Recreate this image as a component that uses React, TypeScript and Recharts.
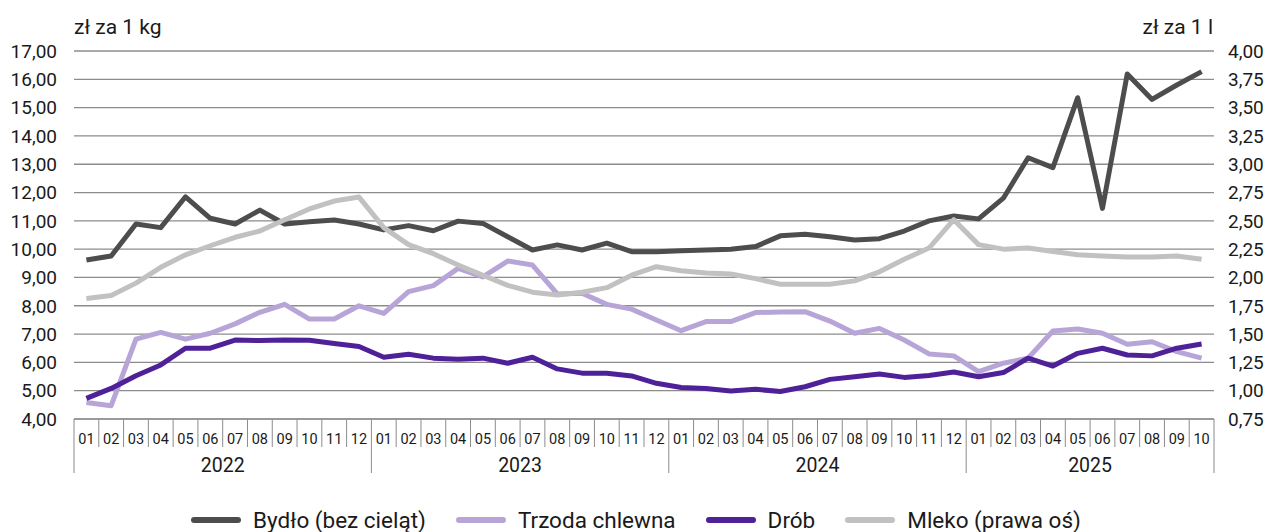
import { LineChart, Line, XAxis, YAxis, CartesianGrid, Legend } from 'recharts';

const months = [
  '01', '02', '03', '04', '05', '06', '07', '08', '09', '10', '11', '12',
  '01', '02', '03', '04', '05', '06', '07', '08', '09', '10', '11', '12',
  '01', '02', '03', '04', '05', '06', '07', '08', '09', '10', '11', '12',
  '01', '02', '03', '04', '05', '06', '07', '08', '09', '10',
];
const years = ['2022', '2023', '2024', '2025'];
const monthsInYear = [12, 12, 12, 10];

// zł za 1 kg
const bydlo = [
  9.62, 9.76, 10.89, 10.76, 11.85, 11.09, 10.89, 11.38, 10.89, 10.97, 11.03, 10.89,
  10.68, 10.83, 10.65, 10.99, 10.91, 10.44, 9.97, 10.15, 9.97, 10.21, 9.91, 9.91,
  9.94, 9.97, 10.0, 10.09, 10.47, 10.53, 10.44, 10.32, 10.37, 10.64, 11.0, 11.17,
  11.07, 11.8, 13.23, 12.88, 15.35, 11.44, 16.19, 15.29, 15.8, 16.27,
];
const trzoda = [
  4.58, 4.47, 6.82, 7.06, 6.82, 7.03, 7.36, 7.77, 8.05, 7.53, 7.53, 8.0,
  7.73, 8.5, 8.71, 9.32, 9.02, 9.58, 9.44, 8.42, 8.44, 8.05, 7.88, 7.5,
  7.12, 7.44, 7.44, 7.76, 7.78, 7.79, 7.46, 7.03, 7.2, 6.79, 6.3, 6.23,
  5.67, 5.97, 6.15, 7.11, 7.18, 7.03, 6.64, 6.73, 6.38, 6.15,
];
const drob = [
  4.73, 5.08, 5.53, 5.91, 6.5, 6.5, 6.79, 6.77, 6.79, 6.78, 6.67, 6.56,
  6.18, 6.29, 6.15, 6.11, 6.15, 5.97, 6.18, 5.77, 5.62, 5.62, 5.52, 5.26,
  5.11, 5.08, 4.99, 5.05, 4.97, 5.14, 5.4, 5.49, 5.59, 5.47, 5.54, 5.66,
  5.49, 5.64, 6.15, 5.87, 6.32, 6.5, 6.26, 6.23, 6.5, 6.65,
];
// zł za 1 l (prawa oś)
const mleko = [
  1.815, 1.84, 1.95, 2.09, 2.2, 2.28, 2.355, 2.41, 2.51, 2.605, 2.675, 2.71,
  2.44, 2.29, 2.21, 2.11, 2.02, 1.93, 1.87, 1.845, 1.87, 1.91, 2.02, 2.095,
  2.06, 2.04, 2.03, 1.99, 1.94, 1.94, 1.94, 1.97, 2.05, 2.16, 2.26, 2.51,
  2.29, 2.25, 2.26, 2.23, 2.2, 2.19, 2.18, 2.18, 2.19, 2.16,
];

const leftTicks = [4, 5, 6, 7, 8, 9, 10, 11, 12, 13, 14, 15, 16, 17];
const rightTicks = [0.75, 1, 1.25, 1.5, 1.75, 2, 2.25, 2.5, 2.75, 3, 3.25, 3.5, 3.75, 4];

const yearOfIndex: string[] = [];
years.forEach((y, k) => {
  for (let j = 0; j < monthsInYear[k]; j++) yearOfIndex.push(y);
});

const data = months.map((m, i) => ({
  key: `${yearOfIndex[i]}-${m}`,
  month: m,
  year: yearOfIndex[i],
  bydlo: bydlo[i],
  trzoda: trzoda[i],
  drob: drob[i],
  mleko: mleko[i],
}));

const series = [
  { key: 'bydlo', name: 'Bydło (bez cieląt)', color: '#4d4d4d', axis: 'left' },
  { key: 'trzoda', name: 'Trzoda chlewna', color: '#b7a5d8', axis: 'left' },
  { key: 'drob', name: 'Drób', color: '#4f2199', axis: 'left' },
  { key: 'mleko', name: 'Mleko (prawa oś)', color: '#c1c1c1', axis: 'right' },
];

const W = 1272;
const H = 532;
const LEFT_W = 74;
const RIGHT_W = 58;
const FONT = 'Roboto, "Noto Sans", sans-serif';
const BW = (W - LEFT_W - RIGHT_W) / months.length;
const boxColor = '#8c8c8c';
const textColor = '#1a1a1a';

const fmt = (v: number) => v.toFixed(2).replace('.', ',');

function MonthTick(props: any) {
  const { x, y, payload } = props;
  const i = payload.index;
  const row = data[i];
  const isYearStart = i === 0 || data[i - 1].year !== row.year;
  const left = x - BW / 2;
  let yearLabel = null;
  if (isYearStart) {
    const count = data.filter((d) => d.year === row.year).length;
    yearLabel = (
      <text x={left + (count * BW) / 2} y={y + 53} textAnchor="middle" fontSize={19.5} fill={textColor} fontFamily={FONT}>
        {row.year}
      </text>
    );
  }
  return (
    <g>
      <line x1={left} x2={left} y1={y} y2={y + (isYearStart ? 54 : 28)} stroke={boxColor} strokeWidth={1} />
      {i === data.length - 1 && (
        <line x1={x + BW / 2} x2={x + BW / 2} y1={y} y2={y + 54} stroke={boxColor} strokeWidth={1} />
      )}
      <text x={x} y={y + 25} textAnchor="middle" fontSize={14.5} fill={textColor} fontFamily={FONT}>
        {row.month}
      </text>
      {yearLabel}
    </g>
  );
}

function LegendContent() {
  return (
    <div
      style={{
        display: 'flex',
        justifyContent: 'center',
        alignItems: 'flex-end',
        height: 59,
        fontFamily: FONT,
        fontSize: 22.5,
        color: textColor,
        paddingLeft: 30,
      }}
    >
      {series.map((s) => (
        <div key={s.key} style={{ display: 'flex', alignItems: 'center', height: 24, marginRight: 30 }}>
          <span style={{ display: 'inline-block', width: 50, height: 6, borderRadius: 3, background: s.color, marginRight: 12 }} />
          <span>{s.name}</span>
        </div>
      ))}
    </div>
  );
}

export default function App() {
  return (
    <div style={{ position: 'absolute', left: 0, top: 0, width: W, height: H, background: '#fff' }}>
      <LineChart width={W} height={H} data={data} margin={{ top: 51, right: 0, left: 0, bottom: 0 }}>
        <CartesianGrid yAxisId="left" vertical={false} stroke={boxColor} strokeWidth={1.3} />
        <XAxis
          dataKey="key"
          scale="band"
          interval={0}
          height={54}
          tickSize={0}
          tickMargin={0}
          axisLine={{ stroke: boxColor }}
          tickLine={false}
          tick={<MonthTick />}
        />
        <YAxis
          yAxisId="left"
          width={LEFT_W}
          domain={[4, 17]}
          ticks={leftTicks}
          interval={0}
          axisLine={false}
          tickLine={false}
          tickSize={0}
          tickMargin={17}
          tickFormatter={fmt}
          tick={{ fontSize: 19, fill: textColor, fontFamily: FONT }}
          label={(p: any) => (
            <text x={p.viewBox.x + p.viewBox.width} y={p.viewBox.y - 17} fontSize={21} fill={textColor} fontFamily={FONT}>
              zł za 1 kg
            </text>
          )}
        />
        <YAxis
          yAxisId="right"
          orientation="right"
          width={RIGHT_W}
          domain={[0.75, 4]}
          ticks={rightTicks}
          interval={0}
          axisLine={false}
          tickLine={false}
          tickSize={0}
          tickMargin={14}
          tickFormatter={fmt}
          tick={{ fontSize: 19, fill: textColor, fontFamily: FONT }}
          label={(p: any) => (
            <text x={p.viewBox.x - 1} y={p.viewBox.y - 17} textAnchor="end" fontSize={21} fill={textColor} fontFamily={FONT}>
              zł za 1 l
            </text>
          )}
        />
        <Legend verticalAlign="bottom" height={59} content={<LegendContent />} />
        {series.map((s) => (
          <Line
            key={s.key}
            yAxisId={s.axis}
            type="linear"
            dataKey={s.key}
            name={s.name}
            stroke={s.color}
            strokeWidth={5}
            strokeLinejoin="round"
            dot={false}
            activeDot={false}
            isAnimationActive={false}
          />
        ))}
      </LineChart>
    </div>
  );
}
